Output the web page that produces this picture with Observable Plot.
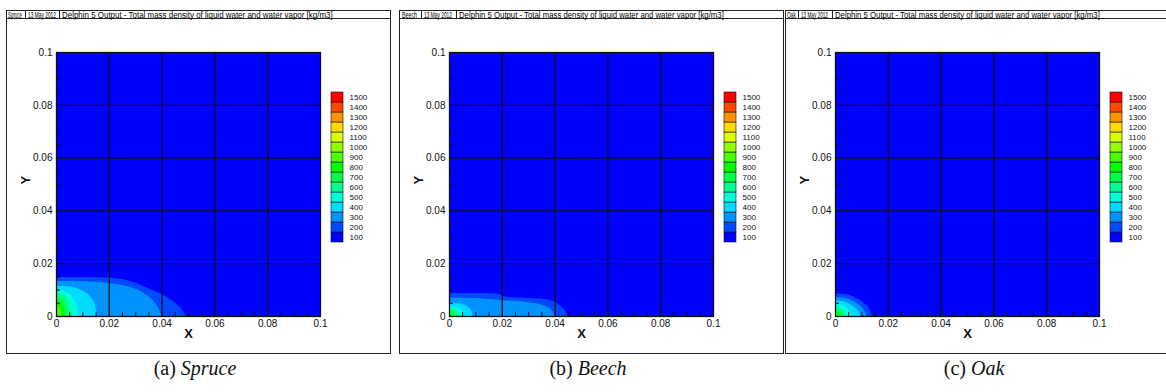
<!DOCTYPE html>
<html><head><meta charset="utf-8">
<script src="https://cdn.jsdelivr.net/npm/d3@7"></script>
<script src="https://cdn.jsdelivr.net/npm/@observablehq/plot@0.6"></script>
<style>
body{margin:0;background:#fff;width:1166px;height:392px;position:relative;overflow:hidden;font-family:"Liberation Sans",Arial,sans-serif}
.panel{position:absolute;top:10px;width:383px;height:342px;border:1px solid #222;}
.panel svg{position:absolute;overflow:visible}
.caption{position:absolute;top:357px;font-family:"Liberation Serif","Times New Roman",serif;font-size:20px;text-align:center;width:200px;color:#111}
</style></head><body>
<script>
// ---- data ----
const levels = [100,200,300,400,500,600,700,800,900,1000,1100,1200,1300,1400,1500];
const levelColors = ["#0000ff","#0049ff","#0092ff","#00dbff","#00ffdb","#00ff92","#00ff49","#00ff00","#49ff00","#92ff00","#dbff00","#ffdb00","#ff9200","#ff4900","#ff0000"];
const axisTicks = [0,0.02,0.04,0.06,0.08,0.1];
const gridTicks = [0.02,0.04,0.06,0.08];
const minorTicks = [0.005,0.01,0.015,0.02,0.025,0.03,0.035,0.04,0.045,0.05,0.055,0.06,0.065,0.07,0.075,0.08,0.085,0.09,0.095];
const panelNames = ["Spruce","Beech","Oak"];
const captionTags = ["(a)","(b)","(c)"];
const headerDate = "13 May 2012";
const headerTitle = "Delphin 5 Output - Total mass density of liquid water and water vapor [kg/m3]";
const axisNames = ["X","Y"];

// contour boundaries: [level, [[x, y], ...]] (outer edge of the region >= level)
const spruceBoundaries = [
  [200, [[0,0.0148],[0.01,0.0148],[0.02,0.0146],[0.027,0.0135],[0.035,0.0105],[0.042,0.0072],[0.046,0.0042],[0.048,0.002],[0.049,0]]],
  [300, [[0,0.0133],[0.01,0.0132],[0.02,0.0125],[0.028,0.011],[0.034,0.0082],[0.0375,0.0048],[0.0392,0.002],[0.0398,0]]],
  [400, [[0,0.0115],[0.005,0.0112],[0.01,0.0096],[0.013,0.0073],[0.0148,0.004],[0.0155,0]]],
  [500, [[0,0.0098],[0.004,0.0091],[0.0065,0.0065],[0.008,0.0035],[0.0085,0]]],
  [600, [[0,0.0088],[0.003,0.0079],[0.005,0.005],[0.006,0]]],
  [700, [[0,0.0078],[0.0028,0.0062],[0.004,0.003],[0.0046,0]]],
  [800, [[0,0.0065],[0.002,0.0052],[0.003,0.002],[0.0035,0]]],
  [900, [[0,0.0042],[0.0014,0.003],[0.0022,0]]]
];
const beechBoundaries = [
  [200, [[0,0.0087],[0.012,0.0087],[0.018,0.0085],[0.022,0.0072],[0.03,0.0068],[0.037,0.0063],[0.042,0.004],[0.044,0.002],[0.045,0]]],
  [300, [[0,0.007],[0.01,0.0068],[0.02,0.006],[0.03,0.0052],[0.036,0.004],[0.039,0.002],[0.04,0]]],
  [400, [[0,0.005],[0.004,0.0047],[0.007,0.0035],[0.0085,0.002],[0.009,0]]],
  [500, [[0,0.0038],[0.003,0.0033],[0.005,0.002],[0.006,0]]],
  [600, [[0,0.003],[0.002,0.0025],[0.0035,0.001],[0.004,0]]],
  [700, [[0,0.0022],[0.0015,0.0017],[0.0025,0]]],
  [800, [[0,0.0015],[0.001,0.001],[0.0015,0]]]
];
const oakBoundaries = [
  [200, [[0,0.0085],[0.004,0.0082],[0.008,0.0068],[0.011,0.0048],[0.013,0.0025],[0.0139,0]]],
  [300, [[0,0.0072],[0.004,0.0068],[0.008,0.005],[0.0105,0.0028],[0.012,0]]],
  [400, [[0,0.006],[0.004,0.0053],[0.007,0.0035],[0.009,0.0015],[0.0095,0]]],
  [500, [[0,0.0045],[0.003,0.004],[0.005,0.0025],[0.0063,0]]],
  [600, [[0,0.0035],[0.0025,0.0028],[0.0045,0]]],
  [700, [[0,0.0025],[0.002,0.0015],[0.003,0]]],
  [800, [[0,0.0015],[0.0015,0.0008],[0.002,0]]]
];
const allBoundaries = [spruceBoundaries, beechBoundaries, oakBoundaries];

// ---- layout ----
const panelLeft = [6, 399, 785];
const headerLayout = [
  {name:[1,14], sep1:18, date:[21,28], sep2:52, title:[55,271]},
  {name:[2,15], sep1:21, date:[24,28], sep2:56, title:[59,265]},
  {name:[1,9],  sep1:12, date:[15,27], sep2:46, title:[49,265]}
];
const color = {type:"ordinal", domain: levels, range: levelColors};
const NS = "http://www.w3.org/2000/svg";

function header(i, parent) {
  const L = headerLayout[i];
  const svg = document.createElementNS(NS, "svg");
  svg.setAttribute("width", 383); svg.setAttribute("height", 9);
  svg.style.left = "0px"; svg.style.top = "0px";
  parent.appendChild(svg);
  const add = (tag, attrs, txt) => {
    const el = document.createElementNS(NS, tag);
    for (const k in attrs) el.setAttribute(k, attrs[k]);
    if (txt) el.textContent = txt;
    svg.appendChild(el);
    return el;
  };
  add("line", {x1:0, x2:383, y1:7.5, y2:7.5, stroke:"#222"});
  add("line", {x1:L.sep1+0.5, x2:L.sep1+0.5, y1:0, y2:8, stroke:"#222"});
  add("line", {x1:L.sep2+0.5, x2:L.sep2+0.5, y1:0, y2:8, stroke:"#222"});
  // draw at a large size, then scale down to the narrow header font
  const put = (p, txt) => {
    const t = add("text", {x:0, y:0, "font-size":90, "font-family":"Liberation Sans, Arial, sans-serif", fill:"#000"}, txt);
    const w = t.getComputedTextLength();
    t.setAttribute("transform", `translate(${p[0]},6.9) scale(${p[1] / w},0.1)`);
  };
  put(L.name, panelNames[i]);
  put(L.date, headerDate);
  put(L.title, headerTitle);
}

function mainPlot(i) {
  const contourMarks = allBoundaries[i].map(([lvl, pts]) =>
    Plot.areaY(pts, {x: d => d[0], y: d => d[1], fill: () => lvl, curve: "monotone-x", clip: true}));
  return Plot.plot({
    width: 383, height: 342,
    marginLeft: 49, marginRight: 70, marginTop: 41, marginBottom: 37,
    x: {domain: [0, 0.1]}, y: {domain: [0, 0.1]},
    color,
    style: {fontFamily: "Liberation Sans, Arial, sans-serif", fontSize: "10px", background: "transparent", color: "#111"},
    marks: [
      Plot.frame({fill: levelColors[0]}),
      ...contourMarks,
      Plot.ruleX(gridTicks, {stroke: "#111", strokeWidth: 1.3}),
      Plot.ruleY(gridTicks, {stroke: "#111", strokeWidth: 1.3}),
      Plot.tickX(minorTicks, {x: d => d, stroke: "#111", insetTop: 260}),
      Plot.tickY(minorTicks, {y: d => d, stroke: "#111", insetRight: 260}),
      Plot.frame({stroke: "#111", strokeWidth: 1.3}),
      Plot.axisX(axisTicks, {tickSize: 0, tickPadding: 3, tickFormat: d => String(d), label: null}),
      Plot.axisY(axisTicks, {tickSize: 0, tickPadding: 4, tickFormat: d => String(d), label: null}),
      Plot.text([axisNames[0]], {text: d => d, frameAnchor: "bottom", dy: 21, fontWeight: "bold", fontSize: 13}),
      Plot.text([axisNames[1]], {text: d => d, frameAnchor: "left", dx: -31, rotate: -90, fontWeight: "bold", fontSize: 13})
    ]
  });
}

function colorBar() {
  return Plot.plot({
    width: 50, height: 157,
    marginLeft: 1, marginRight: 37, marginTop: 1, marginBottom: 1,
    x: {domain: [0, 1], axis: null},
    y: {type: "band", domain: [...levels].reverse(), padding: 0, axis: "right", tickSize: 0, tickPadding: 6, tickFormat: d => String(d), label: null},
    color,
    style: {fontFamily: "Liberation Sans, Arial, sans-serif", fontSize: "8px", background: "transparent", color: "#111"},
    marks: [
      Plot.barX(levels, {x1: 0, x2: 1, y: d => d, fill: d => d, stroke: "#111", strokeWidth: 0.6})
    ]
  });
}

panelNames.forEach((name, i) => {
  const div = document.createElement("div");
  div.className = "panel";
  div.style.left = panelLeft[i] + "px";
  document.body.appendChild(div);
  header(i, div);
  const p = mainPlot(i);
  p.style.left = "0px"; p.style.top = "0px";
  div.appendChild(p);
  const cb = colorBar();
  cb.style.left = "323px"; cb.style.top = "77px";
  div.appendChild(cb);
  const cap = document.createElement("div");
  cap.className = "caption";
  cap.style.left = (panelLeft[i] + 189 - 100) + "px";
  cap.innerHTML = captionTags[i] + " <i>" + name + "</i>";
  document.body.appendChild(cap);
});
</script>
</body></html>
